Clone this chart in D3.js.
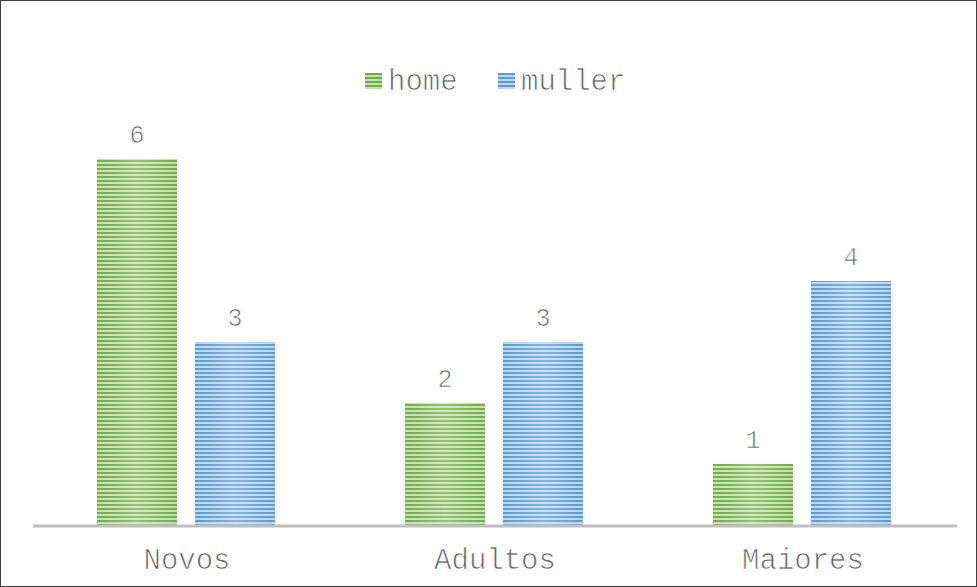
<!DOCTYPE html>
<html>
<head>
<meta charset="utf-8">
<script src="https://cdn.jsdelivr.net/npm/d3@7"></script>
<style>
  body { margin: 0; background: #fff; }
  text { font-family: "Liberation Mono", "Courier New", monospace; fill: #666; stroke: #fff; stroke-width: 0.7px; }
</style>
</head>
<body>
<svg id="chart" width="977" height="587"></svg>
<script>
const categories = ["Novos", "Adultos", "Maiores"];
const seriesNames = ["home", "muller"];
const homeValues = [6, 2, 1];
const mullerValues = [3, 3, 4];

const svg = d3.select("#chart");
const width = 977;
const height = 587;
const margin = { top: 37, right: 20, bottom: 62, left: 33 };

const colors = { home: ["#70ad47", "#c5e0b4"], muller: ["#5b9bd5", "#bdd7ee"] };

// striped fills
const defs = svg.append("defs");
seriesNames.forEach(name => {
    const p = defs.append("pattern")
        .attr("id", "stripe-" + name)
        .attr("patternUnits", "userSpaceOnUse")
        .attr("width", 8)
        .attr("height", 4);
    p.append("rect").attr("width", 8).attr("height", 4).attr("fill", colors[name][1]);
    p.append("rect").attr("width", 8).attr("height", 2).attr("fill", colors[name][0]);
});
const glow = defs.append("linearGradient").attr("id", "glow");
glow.append("stop").attr("offset", "0%").attr("stop-color", "#fff").attr("stop-opacity", 0);
glow.append("stop").attr("offset", "50%").attr("stop-color", "#fff").attr("stop-opacity", 0.25);
glow.append("stop").attr("offset", "100%").attr("stop-color", "#fff").attr("stop-opacity", 0);

svg.append("rect")
    .attr("x", 0.5).attr("y", 0.5)
    .attr("width", width - 1).attr("height", height - 1)
    .attr("fill", "#fff")
    .attr("stroke", "#404040");

const x = d3.scaleBand()
    .domain(categories)
    .range([margin.left, width - margin.right]);

const x1 = d3.scaleBand()
    .domain(seriesNames)
    .range([64, 242])
    .paddingInner(0.184);

const y = d3.scaleLinear()
    .domain([0, 6])
    .range([height - margin.bottom, 159]);

const rows = categories.map((c, i) => ({ category: c, home: homeValues[i], muller: mullerValues[i] }));

const groups = svg.append("g")
    .selectAll("g")
    .data(rows)
    .enter()
    .append("g")
    .attr("transform", d => `translate(${x(d.category)},0)`);

const bars = groups.selectAll("g.bar")
    .data(d => seriesNames.map(s => ({ series: s, value: d[s] })))
    .enter()
    .append("g")
    .attr("class", "bar");

bars.append("rect")
    .attr("x", d => x1(d.series))
    .attr("y", d => y(d.value))
    .attr("width", x1.bandwidth())
    .attr("height", d => y(0) - y(d.value))
    .attr("fill", d => `url(#stripe-${d.series})`);

bars.append("rect")
    .attr("x", d => x1(d.series))
    .attr("y", d => y(d.value))
    .attr("width", x1.bandwidth())
    .attr("height", d => y(0) - y(d.value))
    .attr("fill", "url(#glow)");

bars.append("text")
    .attr("x", d => x1(d.series) + x1.bandwidth() / 2)
    .attr("y", d => y(d.value) - 16)
    .attr("text-anchor", "middle")
    .style("font-size", "25px")
    .text(d => d.value);

// baseline
svg.append("line")
    .attr("x1", margin.left).attr("x2", width - margin.right)
    .attr("y1", y(0) + 1).attr("y2", y(0) + 1)
    .attr("stroke", "#bfbfbf")
    .attr("stroke-width", 3);

const xAxis = svg.append("g")
    .attr("transform", `translate(0, ${y(0)})`)
    .call(d3.axisBottom(x).tickSize(0).tickPadding(23));
xAxis.select(".domain").remove();
xAxis.selectAll("text")
    .style("font-family", '"Liberation Mono", "Courier New", monospace')
    .style("font-size", "29px")
    .attr("fill", "#666");

// legend
const legendItems = [
    { label: "home", x: 365 },
    { label: "muller", x: 498 }
];
const legend = svg.append("g").attr("transform", "translate(0, 73)");
legend.selectAll("rect")
    .data(legendItems)
    .enter()
    .append("rect")
    .attr("x", d => d.x)
    .attr("y", 0)
    .attr("width", 17)
    .attr("height", 16)
    .attr("fill", d => `url(#stripe-${d.label})`);
legend.selectAll("text")
    .data(legendItems)
    .enter()
    .append("text")
    .attr("x", d => d.x + 23)
    .attr("y", 17)
    .style("font-size", "29px")
    .text(d => d.label);
</script>
</body>
</html>
